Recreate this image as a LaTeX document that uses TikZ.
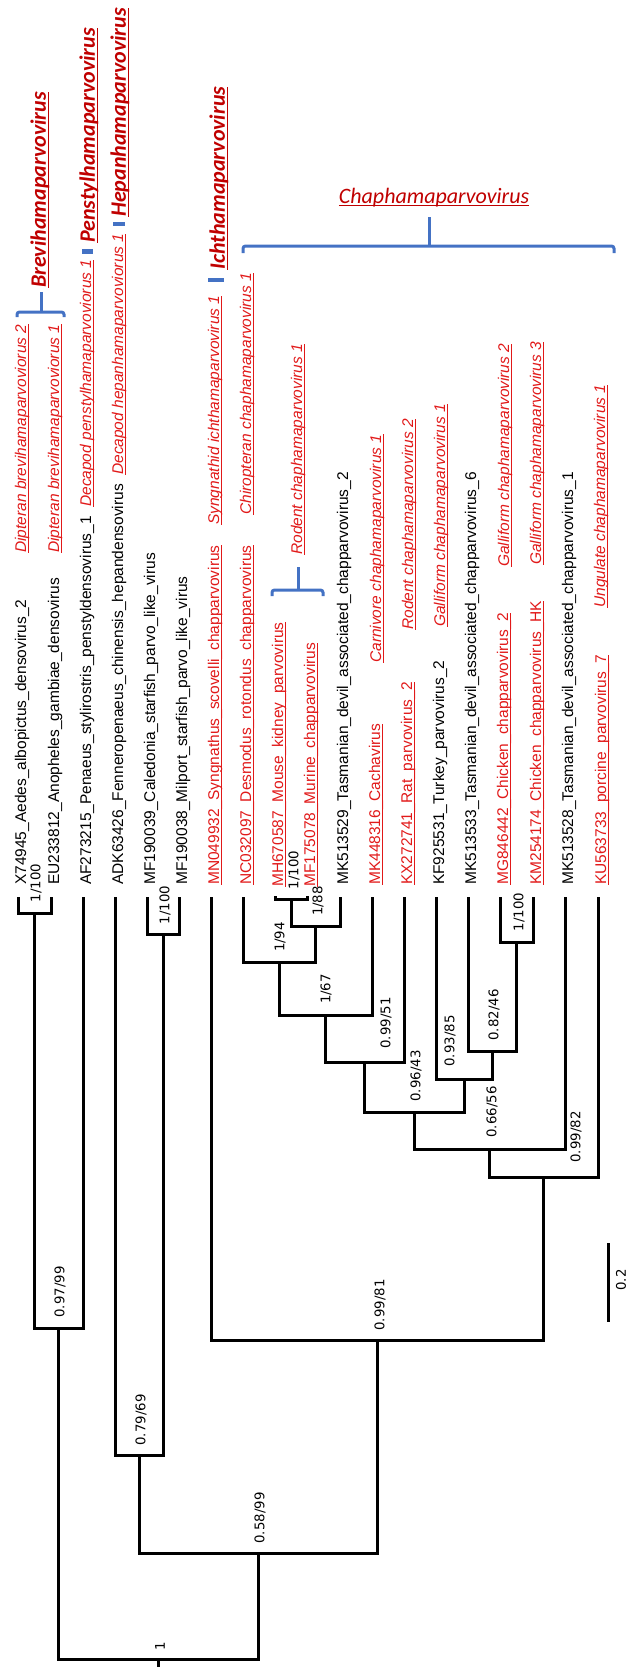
\documentclass[tikz,border=0pt]{standalone}
\usepackage{fontspec}
\setmainfont{Liberation Sans}
\newfontfamily\nlfont{DejaVu Sans}
\newfontfamily\gfont{Carlito}
\definecolor{tipred}{RGB}{225,25,25}
\definecolor{genred}{RGB}{192,0,0}
\definecolor{brblue}{RGB}{68,114,196}
\newsavebox{\myulbox}
\newcommand{\myul}[2][2.4pt]{\sbox{\myulbox}{#2}\rlap{\rule[-#1]{\wd\myulbox}{0.9pt}}\usebox{\myulbox}}
\begin{document}
\begin{tikzpicture}[x=1pt,y=-1pt,
  br/.style={line width=3pt, line join=miter},
  tl/.style={rotate=90, anchor=west, inner sep=0pt, font=\fontsize{15.5}{18}\selectfont},
  rl/.style={tl, text=tipred},
  sp/.style={tl, text=tipred, font=\fontsize{15.5}{18}\selectfont\itshape},
  nl/.style={rotate=90, inner sep=0pt, font=\nlfont\fontsize{13.3}{15}\selectfont},
  gl/.style={rotate=90, anchor=west, inner sep=0pt, text=genred, font=\gfont\fontsize{22}{26}\selectfont\bfseries\itshape},
  brace/.style={draw=brblue, line width=3pt, rounded corners=2.5pt},
  sglmark/.style={fill=brblue, draw=none}
]
\useasboundingbox (0,0) rectangle (627,1667);
% tips
\coordinate (t1) at (18,897);
\coordinate (t2) at (51,897);
\coordinate (t3) at (83,897);
\coordinate (t4) at (115,897);
\coordinate (t5) at (147,897);
\coordinate (t6) at (179,897);
\coordinate (t7) at (211,897);
\coordinate (t8) at (243,897);
\coordinate (t9) at (275,896);
\coordinate (t10) at (307,896);
\coordinate (t11) at (340,897);
\coordinate (t12) at (372,897);
\coordinate (t13) at (404,897);
\coordinate (t14) at (436,897);
\coordinate (t15) at (468,897);
\coordinate (t16) at (500,897);
\coordinate (t17) at (533,897);
\coordinate (t18) at (565,897);
\coordinate (t19) at (598,897);
% internal nodes
\coordinate (nBr) at (34.5,913);
\coordinate (nMF) at (163,934);
\coordinate (nA) at (291,899.5);
\coordinate (nB) at (315.5,926);
\coordinate (nC) at (279,962);
\coordinate (nD) at (325.5,1015);
\coordinate (nE) at (364.8,1062);
\coordinate (nF) at (516.5,942);
\coordinate (nG) at (492.2,1051);
\coordinate (nH) at (464,1079);
\coordinate (nI) at (414.4,1112);
\coordinate (nJ) at (489.7,1149);
\coordinate (nK) at (543.9,1177);
\coordinate (nO) at (377.4,1340);
\coordinate (nL) at (58.7,1328);
\coordinate (nM) at (139,1455);
\coordinate (nN) at (258.2,1553);
\coordinate (nP) at (158.5,1659);
\coordinate (rt) at (158.5,1670);
% branches
\draw[br] (t1) |- (nBr) -| (t2);
\draw[br] (t5) |- (nMF) -| (t6);
\draw[br] (t9) |- (nA) -| (t10);
\draw[br] (nA) |- (nB) -| (t11);
\draw[br] (t8) |- (nC) -| (nB);
\draw[br] (nC) |- (nD) -| (t12);
\draw[br] (nD) |- (nE) -| (t13);
\draw[br] (t16) |- (nF) -| (t17);
\draw[br] (t15) |- (nG) -| (nF);
\draw[br] (t14) |- (nH) -| (nG);
\draw[br] (nE) |- (nI) -| (nH);
\draw[br] (nI) |- (nJ) -| (t18);
\draw[br] (nJ) |- (nK) -| (t19);
\draw[br] (t7) |- (nO) -| (nK);
\draw[br] (nBr) |- (nL) -| (t3);
\draw[br] (t4) |- (nM) -| (nMF);
\draw[br] (nM) |- (nN) -| (nO);
\draw[br] (nL) |- (nP) -| (nN);
\draw[br] (nP) -- (rt);
% scale bar
\coordinate (sb1) at (608,1243);
\coordinate (sb2) at (608,1322);
\draw[br] (sb1) -- (sb2);
\node[nl] (sbl) at (621,1280) {0.2};
% node labels
\node[nl] (lBr) at (36,883) {1/100};
\node[nl] (lMF) at (165,905) {1/100};
\node[nl] (lA) at (294,870) {1/100};
\node[nl] (lB) at (318,901) {1/88};
\node[nl] (lC) at (280,937) {1/94};
\node[nl] (lD) at (326,989) {1/67};
\node[nl] (lE) at (386,1023) {0.99/51};
\node[nl] (lF) at (519,912) {1/100};
\node[nl] (lG) at (494,1015) {0.82/46};
\node[nl] (lH) at (450,1041) {0.93/85};
\node[nl] (lI) at (416,1076) {0.96/43};
\node[nl] (lJ) at (492,1112) {0.66/56};
\node[nl] (lK) at (576,1137) {0.99/82};
\node[nl] (lO) at (380,1305) {0.99/81};
\node[nl] (lL) at (60,1292) {0.97/99};
\node[nl] (lM) at (141,1420) {0.79/69};
\node[nl] (lN) at (260,1518) {0.58/99};
\node[nl] (lP) at (160,1646) {1};
% tip labels
\node[tl] (a1) at (22,885) {X74945\_Aedes\_albopictus\_densovirus\_2};
\node[tl] (a2) at (55,885) {EU233812\_Anopheles\_gambiae\_densovirus};
\node[tl] (a3) at (87,885) {AF273215\_Penaeus\_stylirostris\_penstyldensovirus\_1};
\node[tl] (a4) at (119,885) {ADK63426\_Fenneropenaeus\_chinensis\_hepandensovirus};
\node[tl] (a5) at (151,885) {MF190039\_Caledonia\_starfish\_parvo\_like\_virus};
\node[tl] (a6) at (183,885) {MF190038\_Milport\_starfish\_parvo\_like\_virus};
\node[rl] (a7) at (215,885) {\myul{MN049932\_Syngnathus\_scovelli\_chapparvovirus}};
\node[rl] (a8) at (247,885) {\myul{NC032097\_Desmodus\_rotondus\_chapparvovirus}};
\node[rl] (a9) at (279,887) {\myul{MH670587\_Mouse\_kidney\_parvovirus}};
\node[rl] (a10) at (311,887) {\myul{MF175078\_Murine\_chapparvovirus}};
\node[tl] (a11) at (344,885) {MK513529\_Tasmanian\_devil\_associated\_chapparvovirus\_2};
\node[rl] (a12) at (376,885) {\myul{MK448316\_Cachavirus}};
\node[rl] (a13) at (408,885) {\myul{KX272741\_Rat\_parvovirus\_2}};
\node[tl] (a14) at (440,885) {KF925531\_Turkey\_parvovirus\_2};
\node[tl] (a15) at (472,885) {MK513533\_Tasmanian\_devil\_associated\_chapparvovirus\_6};
\node[rl] (a16) at (504,885) {\myul{MG846442\_Chicken\_chapparvovirus\_2}};
\node[rl] (a17) at (537,885) {\myul{KM254174\_Chicken\_chapparvovirus\_HK}};
\node[tl] (a18) at (569,885) {MK513528\_Tasmanian\_devil\_associated\_chapparvovirus\_1};
\node[rl] (a19) at (602,885) {\myul{KU563733\_porcine\_parvovirus\_7}};
% species labels
\node[sp] (s1) at (22,553) {\myul{Dipteran brevihamaparvoviorus 2}};
\node[sp] (s2) at (55,553) {\myul{Dipteran brevihamaparvoviorus 1}};
\node[sp] (s3) at (87,507) {\myul{Decapod penstylhamaparvoviorus 1}};
\node[sp] (s4) at (119,475) {\myul{Decapod hepanhamaparvoviorus 1}};
\node[sp] (s7) at (215,525) {\myul{Syngnathid ichthamaparvovirus 1}};
\node[sp] (s8) at (247,515) {\myul{Chiropteran chaphamaparvovirus 1}};
\node[sp] (s9) at (298,555) {\myul{Rodent chaphamaparvovirus 1}};
\node[sp] (s12) at (377,663) {\myul{Carnivore chaphamaparvovirus 1}};
\node[sp] (s13) at (409,630) {\myul{Rodent chaphamaparvovirus 2}};
\node[sp] (s14) at (441,627) {\myul{Galliform chaphamaparvovirus 1}};
\node[sp] (s16) at (505,567) {\myul{Galliform chaphamaparvovirus 2}};
\node[sp] (s17) at (537,565) {\myul{Galliform chaphamaparvovirus 3}};
\node[sp] (s19) at (601,608) {\myul{Ungulate chaphamaparvovirus 1}};
% genus labels
\node[gl] (g1) at (40,288) {\myul[3pt]{Brevihamaparvovirus}};
\node[gl] (g2) at (89,243) {\myul[3pt]{Penstylhamaparvovirus}};
\node[gl] (g3) at (120,217) {\myul[3pt]{Hepanhamaparvovirus}};
\node[gl] (g4) at (219,270) {\myul[3pt]{Ichthamaparvovirus}};
\node[anchor=base, inner sep=0pt, text=genred, font=\gfont\fontsize{22}{26}\selectfont\itshape] (g5) at (434,203) {\myul[3pt]{Chaphamaparvovirus}};
% braces
\draw[brace] (17,317) -- (17,312) -- (64,312) -- (64,317);
\draw[draw=brblue, line width=3pt] (41,312) -- (41,292);
\draw[brace] (272,596) -- (272,590) -- (323,590) -- (323,596);
\draw[draw=brblue, line width=3pt] (298,590) -- (298,567);
\draw[brace] (243,253) -- (243,246) -- (614,246) -- (614,253);
\draw[draw=brblue, line width=3pt] (429,246) -- (429,217);
% single-species marks
\fill[sglmark] (82,249) rectangle (93,253.5);
\fill[sglmark] (113,221.5) rectangle (125,226);
\fill[sglmark] (208,277.5) rectangle (224,282);
\end{tikzpicture}
\end{document}
